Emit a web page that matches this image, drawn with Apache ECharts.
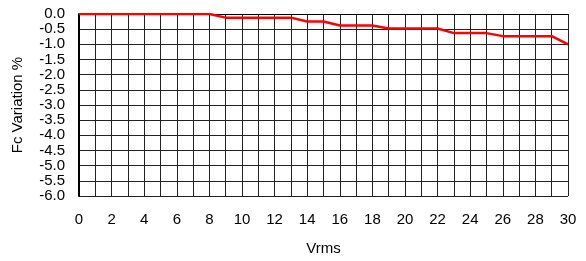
<!DOCTYPE html>
<html style="height: 100%">
	<head>
		<meta charset="utf-8" />
		<script src="https://cdn.jsdelivr.net/npm/echarts@6/dist/echarts.min.js"></script>
		<title>Fc Variation</title>
	</head>
	<body style="height: 100%; margin: 0; background: #fff">
		<div id="container" style="width: 586px; height: 261px"></div>
		<script type="text/javascript">
			// Vrms readings and the measured Fc variation (%)
			let vrms = [0, 8, 9, 13, 14, 15, 16, 18, 19, 22, 23, 25, 26, 29, 30];
			let fcVariation = [0, 0, -0.12, -0.12, -0.25, -0.25, -0.38, -0.38, -0.48, -0.48, -0.63, -0.63, -0.73, -0.73, -1.0];

			let points = vrms.map((v, i) => [v, fcVariation[i]]);

			let chart = echarts.init(document.getElementById("container"));
			chart.setOption({
				animation: false,
				grid: {left: 79, right: 18, top: 14, bottom: 61},
				xAxis: {
					type: "value",
					min: 0,
					max: 30,
					interval: 1,
					name: "Vrms",
					nameLocation: "middle",
					nameGap: 45,
					nameTextStyle: {color: "#000", fontSize: 15, fontFamily: "Liberation Sans"},
					axisLine: {show: true, lineStyle: {color: "#000", width: 1}},
					axisTick: {show: false},
					axisLabel: {
						color: "#000",
						fontSize: 15,
						fontFamily: "Liberation Sans",
						margin: 16,
						formatter: (v) => (v % 2 == 0 ? String(v) : "")
					},
					splitLine: {show: true, lineStyle: {color: "#222", width: 1}}
				},
				yAxis: {
					type: "value",
					min: -6,
					max: 0,
					interval: 0.5,
					name: "Fc Variation %",
					nameLocation: "middle",
					nameGap: 54,
					nameTextStyle: {color: "#000", fontSize: 15, fontFamily: "Liberation Sans"},
					axisLine: {show: true, lineStyle: {color: "#000", width: 2}},
					axisTick: {show: false},
					axisLabel: {
						color: "#000",
						fontSize: 15,
						fontFamily: "Liberation Sans",
						margin: 14,
						formatter: (v) => v.toFixed(1)
					},
					splitLine: {show: true, lineStyle: {color: "#222", width: 1}}
				},
				series: [{
					type: "line",
					data: points,
					showSymbol: false,
					lineStyle: {color: "#ff0000", width: 2.5},
					z: 5
				}]
			});
		</script>
	</body>
</html>
